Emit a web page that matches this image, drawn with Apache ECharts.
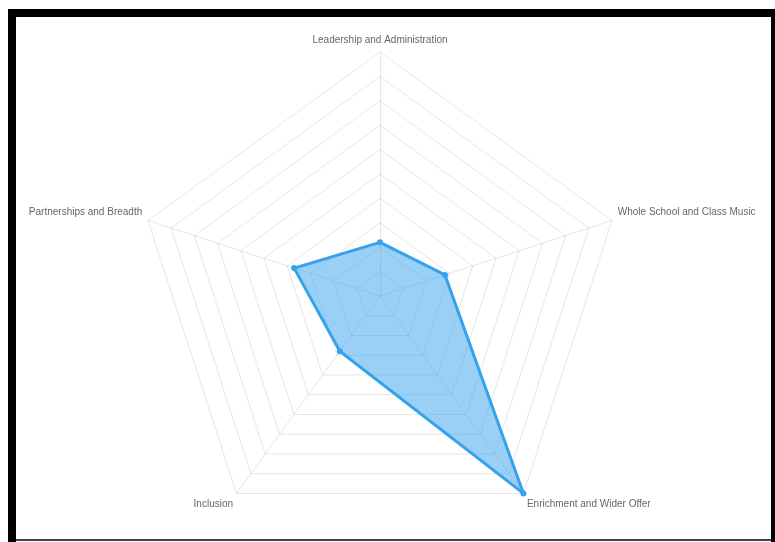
<!DOCTYPE html>
<html>
<head>
<meta charset="utf-8">
<script src="https://cdn.jsdelivr.net/npm/echarts@6/dist/echarts.min.js"></script>
<style>
html,body{margin:0;padding:0;background:#fff;width:775px;height:542px;overflow:hidden;}
#chart{position:absolute;left:0;top:0;width:775px;height:542px;}
.b{position:absolute;pointer-events:none;}
</style>
</head>
<body>
<div id="chart"></div>
<div class="b" style="left:8px;top:9px;width:767px;height:8px;background:#000;"></div>
<div class="b" style="left:8px;top:9px;width:8px;height:533px;background:#000;"></div>
<div class="b" style="left:771px;top:9px;width:4px;height:533px;background:#000;"></div>
<div class="b" style="left:16px;top:539px;width:755px;height:2px;background:#444;"></div>
<script>
const categories = ["Leadership and Administration", "Whole School and Class Music", "Enrichment and Wider Offer", "Inclusion", "Partnerships and Breadth"];
const scores = [22, 28, 100, 28, 37];
const axisMax = 100;

// ECharts lays indicators out counter-clockwise; the reference runs clockwise.
const order = [0, 4, 3, 2, 1];
// label nudges: side labels sit a little higher, bottom labels a little lower
const sideNames = [categories[1], categories[4]];
const bottomNames = [categories[2], categories[3]];

const chart = echarts.init(document.getElementById('chart'));
chart.setOption({
  animation: false,
  radar: {
    center: [380, 296],
    radius: 244,
    startAngle: 90,
    splitNumber: 10,
    shape: 'polygon',
    indicator: order.map(i => ({ name: categories[i], max: axisMax, min: 0 })),
    nameGap: 6,
    axisName: {
      color: '#666', fontSize: 10, lineHeight: 12,
      fontFamily: 'Liberation Sans, Arial, sans-serif',
      formatter: function (name) {
        if (sideNames.indexOf(name) >= 0) return name + '\n ';
        if (bottomNames.indexOf(name) >= 0) return ' \n' + name;
        return name;
      }
    },
    splitLine: { lineStyle: { color: 'rgba(0,0,0,0.1)', width: 1 } },
    axisLine: { lineStyle: { color: 'rgba(0,0,0,0.1)', width: 1 } },
    splitArea: { show: false },
    axisTick: { show: false },
    axisLabel: { show: false }
  },
  series: [{
    type: 'radar',
    symbol: 'circle',
    symbolSize: 6,
    data: [{ value: order.map(i => scores[i]) }],
    lineStyle: { color: 'rgb(54,162,235)', width: 3 },
    itemStyle: { color: 'rgb(54,162,235)' },
    areaStyle: { color: 'rgba(54,162,235,0.5)', opacity: 1 }
  }]
});
</script>
</body>
</html>
